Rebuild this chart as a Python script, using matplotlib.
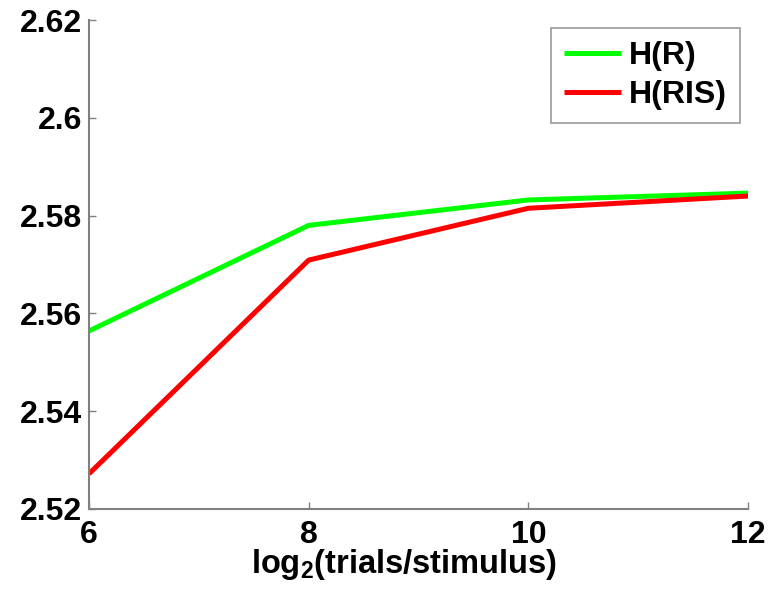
import matplotlib
matplotlib.use("Agg")
import matplotlib.pyplot as plt

plt.rcParams['font.family'] = ['Liberation Sans', 'DejaVu Sans']
plt.rcParams['font.weight'] = 'bold'
plt.rcParams['mathtext.fontset'] = 'custom'
plt.rcParams['mathtext.rm'] = 'Liberation Sans:bold'
plt.rcParams['mathtext.it'] = 'Liberation Sans:bold'
plt.rcParams['mathtext.bf'] = 'Liberation Sans:bold'
plt.rcParams['mathtext.default'] = 'rm'

log2_trials = [6, 8, 10, 12]
h_r = [2.5564, 2.5780, 2.5832, 2.5846]
h_r_given_s = [2.5272, 2.5709, 2.5815, 2.5840]
x_ticks = [6, 8, 10, 12]
y_ticks = [2.52, 2.54, 2.56, 2.58, 2.6, 2.62]
y_tick_labels = ['2.52', '2.54', '2.56', '2.58', '2.6', '2.62']

fig = plt.figure(figsize=(7.73, 6.02), dpi=100)
ax = fig.add_axes([89 / 773, 1 - 509 / 602, (748 - 89) / 773, (509 - 20) / 602])

ax.plot(log2_trials, h_r, color='#00ff00', lw=3.6, label='H(R)', solid_capstyle='butt')
ax.plot(log2_trials, h_r_given_s, color='#ff0000', lw=3.6, label='H(RIS)', solid_capstyle='butt')

ax.set_xlim(6, 12)
ax.set_ylim(2.52, 2.62)
ax.set_xticks(x_ticks)
ax.set_xticklabels([str(v) for v in x_ticks])
ax.set_yticks(y_ticks)
ax.set_yticklabels(y_tick_labels)

for side in ('top', 'right'):
    ax.spines[side].set_visible(False)
for side in ('left', 'bottom'):
    ax.spines[side].set_color('#808080')
    ax.spines[side].set_linewidth(1.5)

ax.tick_params(direction='in', length=5, width=1, color='#808080', labelsize=23)
ax.tick_params(axis='x', pad=8)
ax.tick_params(axis='y', pad=5)
for lbl in ax.get_xticklabels() + ax.get_yticklabels():
    lbl.set_fontweight('bold')

ax.set_xlabel('log$_2$(trials/stimulus)', fontsize=23.5, fontweight='bold')
ax.xaxis.set_label_coords(0.478, -0.078)

leg = ax.legend(loc='upper right', bbox_to_anchor=(740 / 773, 1 - 28 / 602),
                bbox_transform=fig.transFigure, borderaxespad=0, fontsize=23,
                frameon=True, fancybox=False, handlelength=1.8, handletextpad=0.25,
                borderpad=0.4, labelspacing=0.3)
leg.get_frame().set_edgecolor('#808080')
leg.get_frame().set_linewidth(1.2)

fig.savefig('out.png', dpi=100)
